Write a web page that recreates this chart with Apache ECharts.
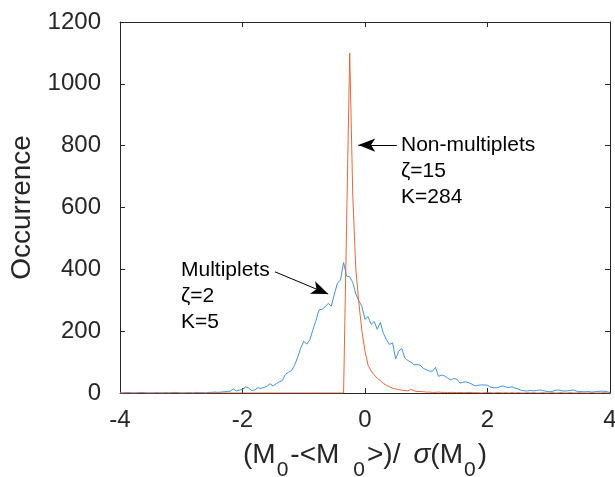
<!DOCTYPE html>
<html>
<head>
<meta charset="utf-8">
<script src="https://cdn.jsdelivr.net/npm/echarts@6/dist/echarts.min.js"></script>
<style>
  html, body { margin: 0; padding: 0; background: #fff; }
  #chart { width: 615px; height: 477px; }
</style>
</head>
<body>
<div id="chart"></div>
<script>
// Histogram of normalised M0 deviations, bins of width 0.05 from -4 to 4
const binStart = -4;
const binStep = 0.05;

// Multiplets (zeta = 2, K = 5)
const multipletCounts = [
  0, 0, 1, 1, 0, 0, 1, 2, 1, 0,
  0, 0, 1, 0, 0, 1, 0, 1, 2, 1,
  0, 0, 1, 1, 0, 2, 1, 1, 0, 2,
  2, 3, 2, 3, 4, 5, 6, 13, 7, 9,
  12, 20, 16, 8, 10, 17, 15, 18, 22, 30,
  23, 30, 36, 40, 60, 67, 72, 90, 115, 145,
  168, 158, 172, 205, 235, 269, 271, 279, 290, 281,
  320, 355, 366, 422, 378, 376, 358, 320, 298, 280,
  238, 247, 222, 231, 206, 228, 193, 172, 157, 162,
  110, 135, 144, 113, 105, 100, 91, 92, 90, 80,
  75, 71, 70, 83, 54, 58, 55, 48, 42, 47,
  45, 32, 35, 36, 33, 28, 23, 25, 26, 26,
  25, 19, 17, 17, 20, 23, 19, 18, 20, 16,
  13, 9, 7, 7, 8, 7, 8, 10, 8, 6,
  4, 5, 8, 10, 8, 6, 7, 8, 10, 6,
  5, 4, 4, 5, 3, 4, 5, 6, 6, 4,
  2
];

// Non-multiplets (zeta = 15, K = 284)
const nonMultipletCounts = [
  0, 0, 0, 0, 0, 0, 0, 0, 0, 0,
  0, 0, 0, 0, 0, 0, 0, 0, 0, 0,
  0, 0, 0, 0, 0, 0, 0, 0, 0, 0,
  0, 0, 0, 0, 0, 0, 0, 0, 0, 0,
  0, 0, 0, 0, 0, 0, 0, 0, 0, 0,
  0, 0, 0, 0, 0, 0, 0, 0, 0, 0,
  0, 0, 0, 0, 0, 0, 0, 0, 0, 0,
  0, 0, 0, 0, 550, 1100, 640, 400, 290, 200,
  135, 90, 72, 58, 48, 40, 31, 25, 20, 16,
  13, 11, 9, 8, 7, 12, 7, 5, 5, 4,
  3, 3, 2, 2, 3, 2, 2, 1, 2, 2,
  1, 2, 1, 1, 2, 1, 1, 1, 0, 1,
  1, 1, 0, 1, 1, 0, 1, 0, 1, 0,
  1, 0, 0, 1, 0, 1, 0, 0, 1, 0,
  0, 1, 0, 0, 1, 0, 0, 1, 0, 0,
  1, 0, 0, 0, 1, 0, 0, 0, 1, 0,
  0
];

const xTicks = { min: -4, max: 4, interval: 2 };
const yTicks = { min: 0, max: 1200, interval: 200 };

const binCenters = multipletCounts.map((_, i) => +(binStart + i * binStep).toFixed(2));
const toPairs = counts => counts.map((c, i) => [binCenters[i], c]);

const FONT = '"Liberation Sans", Arial, Helvetica, sans-serif';
const INK = '#262626';

const boxAxis = (extra) => Object.assign({
  type: 'value',
  splitLine: { show: false },
  axisLine: { show: true, onZero: false, lineStyle: { color: INK, width: 1 } },
  axisTick: { show: true, inside: true, length: 5, lineStyle: { color: INK } },
  axisLabel: { show: false }
}, extra);

const chart = echarts.init(document.getElementById('chart'), null, { renderer: 'canvas' });

chart.setOption({
  animation: false,
  backgroundColor: '#fff',
  grid: { left: 120, right: 5, top: 22, bottom: 84, containLabel: false, outerBoundsMode: 'none' },
  xAxis: [
    boxAxis({
      position: 'bottom', ...xTicks,
      axisLabel: { show: true, fontSize: 24, color: INK, fontFamily: FONT, margin: 15,
        formatter: v => String(v) },
      name: '(M{s|0}-<M{w| }{s|0}>)/{w| }{g|σ}(M{s|0})',
      nameLocation: 'middle',
      nameGap: 36,
      nameTextStyle: {
        fontSize: 28, color: INK, fontFamily: FONT,
        rich: {
          s: { fontSize: 21, fontFamily: FONT, color: INK, padding: [31, 2, 0, 1] },
          w: { fontSize: 28, fontFamily: FONT, width: 13 },
          g: { fontSize: 28, fontFamily: FONT, color: INK, fontStyle: 'italic' }
        }
      }
    }),
    boxAxis({ position: 'top', ...xTicks })
  ],
  yAxis: [
    boxAxis({
      position: 'left', ...yTicks,
      axisLabel: { show: true, fontSize: 24, color: INK, fontFamily: FONT, margin: 19,
        formatter: v => String(v) },
      name: 'Occurrence',
      nameLocation: 'middle',
      nameGap: 78,
      nameTextStyle: { fontSize: 28, color: INK, fontFamily: FONT }
    }),
    boxAxis({ position: 'right', ...yTicks })
  ],
  series: [
    {
      name: 'Multiplets',
      type: 'line',
      data: toPairs(multipletCounts),
      showSymbol: false,
      symbol: 'none',
      lineStyle: { color: '#4592d8', width: 1 },
      z: 2,
      silent: true,
      markLine: {
        silent: true,
        symbol: ['none', 'arrow'],
        symbolSize: 13,
        label: { show: false },
        lineStyle: { color: '#000', width: 1, type: 'solid' },
        emphasis: { disabled: true },
        data: [
          [{ coord: [-1.47, 392] }, { coord: [-0.6, 320], symbolSize: [10, 17] }],
          [{ coord: [0.52, 802] }, { coord: [-0.11, 802], symbolSize: [10, 17] }]
        ]
      }
    },
    {
      name: 'Non-multiplets',
      type: 'line',
      data: toPairs(nonMultipletCounts),
      showSymbol: false,
      symbol: 'none',
      lineStyle: { color: '#e2693f', width: 1 },
      z: 3,
      silent: true
    }
  ],
  graphic: [
    {
      type: 'text', left: 401, top: 132, silent: true,
      style: {
        text: 'Non-multiplets\n{g|ζ}=15\nK=284',
        font: '21px ' + FONT, fill: '#000', lineHeight: 26,
        rich: { g: { fontSize: 21, fontFamily: FONT, fill: '#000', lineHeight: 26 } }
      }
    },
    {
      type: 'text', left: 181, top: 257, silent: true,
      style: {
        text: 'Multiplets\n{g|ζ}=2\nK=5',
        font: '21px ' + FONT, fill: '#000', lineHeight: 26,
        rich: { g: { fontSize: 21, fontFamily: FONT, fill: '#000', lineHeight: 26 } }
      }
    }
  ]
});
</script>
</body>
</html>
